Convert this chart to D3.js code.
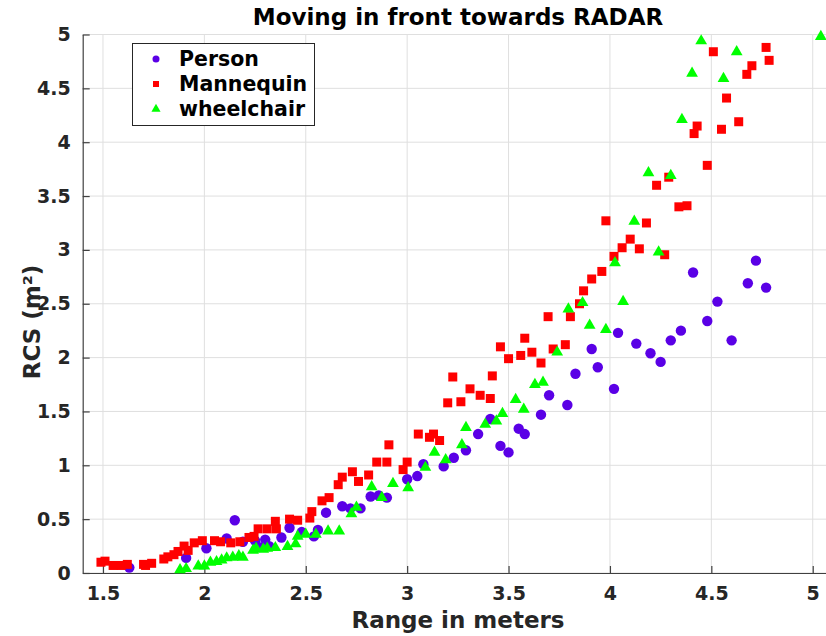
<!DOCTYPE html>
<html>
<head>
<meta charset="utf-8">
<script src="https://cdn.jsdelivr.net/npm/d3@7"></script>
<style>
  html, body { margin: 0; padding: 0; background: #ffffff; }
  svg { display: block; font-family: "DejaVu Sans", sans-serif; }
</style>
</head>
<body>
<svg id="chart" width="826" height="636"></svg>
<script>
const title = "Moving in front towards RADAR";
const xLabel = "Range in meters";
const yLabel = "RCS (m²)";
const seriesNames = ["Person", "Mannequin", "wheelchair"];
const xTicks = [1.5, 2, 2.5, 3, 3.5, 4, 4.5, 5];
const yTicks = [0, 0.5, 1, 1.5, 2, 2.5, 3, 3.5, 4, 4.5, 5];

const person = [[1.63,0.05],[1.91,0.14],[2.01,0.23],[2.11,0.32],[2.15,0.49],[2.19,0.29],[2.25,0.30],[2.27,0.24],[2.30,0.31],[2.32,0.25],[2.38,0.33],[2.42,0.42],[2.48,0.38],[2.54,0.34],[2.56,0.40],[2.60,0.56],[2.68,0.62],[2.72,0.60],[2.77,0.60],[2.82,0.71],[2.86,0.72],[2.90,0.70],[3.00,0.87],[3.05,0.90],[3.08,1.01],[3.18,0.99],[3.23,1.07],[3.29,1.14],[3.35,1.29],[3.41,1.43],[3.46,1.18],[3.50,1.12],[3.55,1.34],[3.58,1.29],[3.66,1.47],[3.70,1.65],[3.79,1.56],[3.83,1.85],[3.91,2.08],[3.94,1.91],[4.02,1.71],[4.04,2.23],[4.13,2.13],[4.20,2.04],[4.25,1.96],[4.30,2.16],[4.35,2.25],[4.41,2.79],[4.48,2.34],[4.53,2.52],[4.60,2.16],[4.68,2.69],[4.72,2.90],[4.77,2.65]];

const mannequin = [[1.49,0.10],[1.51,0.11],[1.55,0.07],[1.59,0.07],[1.62,0.08],[1.70,0.08],[1.71,0.07],[1.74,0.09],[1.80,0.13],[1.82,0.15],[1.85,0.17],[1.87,0.20],[1.90,0.25],[1.92,0.21],[1.95,0.28],[1.99,0.30],[2.05,0.30],[2.08,0.29],[2.13,0.28],[2.175,0.29],[2.22,0.33],[2.245,0.34],[2.265,0.41],[2.31,0.41],[2.35,0.48],[2.355,0.41],[2.42,0.50],[2.46,0.49],[2.52,0.51],[2.53,0.57],[2.58,0.67],[2.615,0.70],[2.66,0.82],[2.68,0.89],[2.73,0.94],[2.76,0.85],[2.81,0.91],[2.85,1.03],[2.90,1.03],[2.91,1.19],[2.98,0.96],[3.00,1.03],[3.055,1.29],[3.11,1.26],[3.13,1.29],[3.16,1.23],[3.20,1.58],[3.225,1.82],[3.265,1.59],[3.31,1.71],[3.36,1.65],[3.41,1.62],[3.42,1.83],[3.46,2.10],[3.50,1.99],[3.56,2.02],[3.58,2.18],[3.615,2.05],[3.66,1.95],[3.695,2.38],[3.72,2.08],[3.78,2.12],[3.805,2.38],[3.85,2.50],[3.87,2.62],[3.91,2.73],[3.96,2.80],[3.98,3.27],[4.02,2.94],[4.06,3.02],[4.10,3.10],[4.145,3.01],[4.18,3.25],[4.23,3.60],[4.27,2.955],[4.29,3.675],[4.34,3.40],[4.38,3.41],[4.415,4.08],[4.43,4.15],[4.48,3.785],[4.51,4.84],[4.55,4.12],[4.575,4.41],[4.635,4.19],[4.675,4.63],[4.70,4.71],[4.77,4.88],[4.785,4.76]];

const wheelchair = [[1.88,0.03],[1.91,0.04],[1.97,0.065],[2.00,0.065],[2.03,0.10],[2.06,0.105],[2.085,0.12],[2.11,0.14],[2.14,0.145],[2.17,0.16],[2.19,0.145],[2.24,0.21],[2.255,0.23],[2.29,0.22],[2.31,0.23],[2.35,0.235],[2.41,0.245],[2.45,0.27],[2.46,0.34],[2.50,0.36],[2.55,0.36],[2.61,0.39],[2.665,0.39],[2.725,0.55],[2.75,0.61],[2.825,0.80],[2.875,0.70],[2.93,0.83],[3.005,0.79],[3.09,0.98],[3.135,1.12],[3.19,1.05],[3.27,1.19],[3.29,1.35],[3.385,1.38],[3.44,1.41],[3.47,1.48],[3.535,1.61],[3.575,1.52],[3.63,1.75],[3.67,1.77],[3.74,2.05],[3.795,2.45],[3.865,2.51],[3.90,2.30],[3.98,2.26],[4.025,2.88],[4.065,2.52],[4.12,3.265],[4.19,3.715],[4.24,2.98],[4.30,3.69],[4.355,4.21],[4.405,4.64],[4.45,4.94],[4.56,4.59],[4.625,4.84],[5.04,4.98]];

const colors = { Person: "#5a00e6", Mannequin: "#ff0000", wheelchair: "#00ff00" };

const svg = d3.select("#chart");
const x = d3.scaleLinear().domain([1.4, 5.1]).range([82.7, 833]);
const y = d3.scaleLinear().domain([0, 5]).range([573, 34.5]);
const textCol = "#262626";

// grid
const grid = svg.append("g");
grid.selectAll(".gx").data(xTicks).join("line")
  .attr("x1", d => x(d)).attr("x2", d => x(d))
  .attr("y1", y(0)).attr("y2", y(5))
  .attr("stroke", "#dfdfdf").attr("stroke-width", 1);
grid.selectAll(".gy").data(yTicks).join("line")
  .attr("x1", x(1.4)).attr("x2", 826)
  .attr("y1", d => y(d)).attr("y2", d => y(d))
  .attr("stroke", "#dfdfdf").attr("stroke-width", 1);

// axes
const xAxis = d3.axisBottom(x).tickValues(xTicks).tickFormat(d3.format("")).tickSizeInner(-7).tickSizeOuter(0).tickPadding(14);
const yAxis = d3.axisLeft(y).tickValues(yTicks).tickFormat(d3.format("")).tickSizeInner(-7).tickSizeOuter(0).tickPadding(12);

const gx = svg.append("g").attr("transform", `translate(0,${y(0)})`).call(xAxis);
const gy = svg.append("g").attr("transform", `translate(${x(1.4)},0)`).call(yAxis);
[gx, gy].forEach(g => {
  g.select(".domain").attr("stroke", "#404040").attr("stroke-width", 1.2);
  g.selectAll(".tick line").attr("stroke", "#404040").attr("stroke-width", 1.2);
  g.selectAll(".tick text").attr("fill", textCol).attr("font-size", 19)
    .attr("font-weight", "bold").attr("font-family", "DejaVu Sans, sans-serif");
});

// markers
const sym = {
  Person: d3.symbol().type(d3.symbolCircle).size(Math.PI * 5.2 * 5.2),
  Mannequin: d3.symbol().type(d3.symbolSquare).size(9 * 9),
  wheelchair: d3.symbol().type(d3.symbolTriangle).size(60)
};
const data = { Person: person, Mannequin: mannequin, wheelchair: wheelchair };
const plot = svg.append("g");
seriesNames.forEach(name => {
  plot.append("g").selectAll("path").data(data[name]).join("path")
    .attr("d", sym[name]())
    .attr("transform", d => `translate(${x(d[0])},${y(d[1])})`)
    .attr("fill", colors[name]);
});

// title & labels
svg.append("text").attr("x", 458).attr("y", 25).attr("text-anchor", "middle")
  .attr("font-size", 23).attr("font-weight", "bold").attr("fill", "#000").text(title);
svg.append("text").attr("x", 458).attr("y", 628).attr("text-anchor", "middle")
  .attr("font-size", 23).attr("font-weight", "bold").attr("fill", textCol).text(xLabel);
svg.append("text").attr("transform", `translate(40,322) rotate(-90)`)
  .attr("text-anchor", "middle").attr("font-size", 23).attr("font-weight", "bold")
  .attr("fill", textCol).text(yLabel);

// legend
const lg = svg.append("g");
lg.append("rect").attr("x", 132.5).attr("y", 43.5).attr("width", 182).attr("height", 82)
  .attr("fill", "#fff").attr("stroke", "#262626").attr("stroke-width", 1);
const legSym = {
  Person: d3.symbol().type(d3.symbolCircle).size(Math.PI * 3.5 * 3.5),
  Mannequin: d3.symbol().type(d3.symbolSquare).size(36),
  wheelchair: d3.symbol().type(d3.symbolTriangle).size(36)
};
seriesNames.forEach((name, i) => {
  const cy = 59 + i * 25;
  lg.append("path").attr("d", legSym[name]()).attr("transform", `translate(156,${cy})`)
    .attr("fill", colors[name]);
  lg.append("text").attr("x", 179).attr("y", cy + 7).attr("font-size", 20.5)
    .attr("font-weight", "bold").attr("fill", "#000").text(name);
});
</script>
</body>
</html>
